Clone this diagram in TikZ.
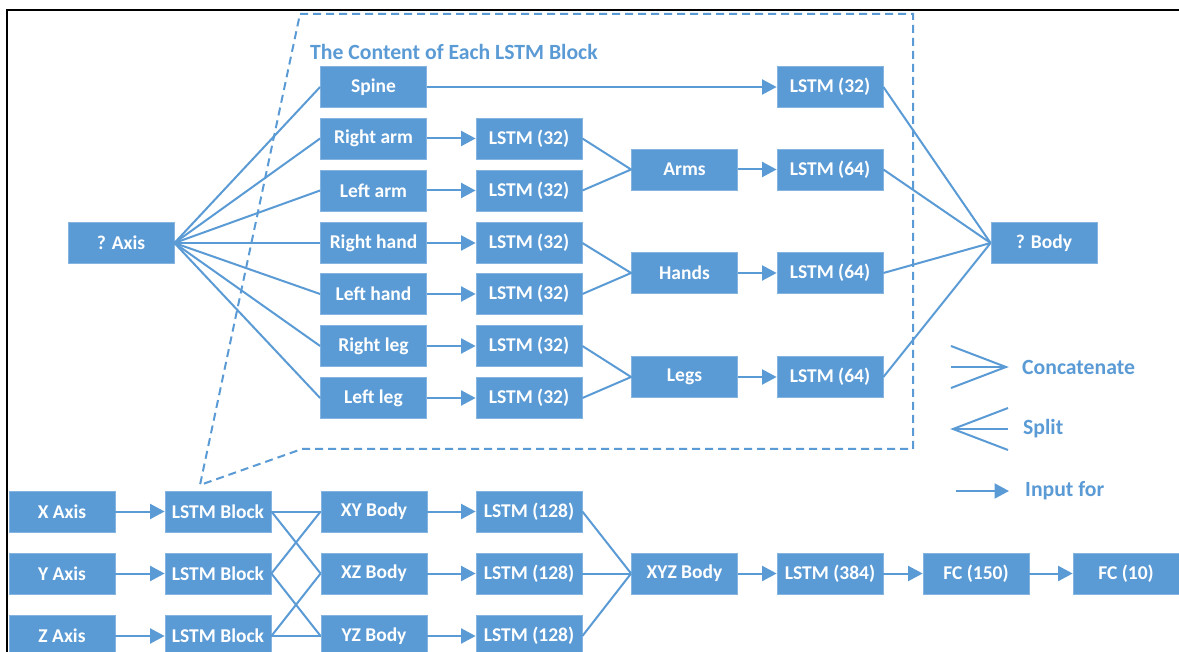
\documentclass[tikz,border=0pt]{standalone}
\usepackage{fontspec}
\setmainfont{Carlito}
\usetikzlibrary{arrows.meta}
\definecolor{boxblue}{RGB}{91,155,213}
\tikzset{
  blk/.style={fill=boxblue, draw=boxblue!75!white, line width=0.8pt, minimum width=106pt, minimum height=41pt, inner sep=0pt, text=white, font=\bfseries\fontsize{19.5}{22}\selectfont},
  conn/.style={draw=boxblue, line width=2pt},
  arr/.style={conn, -{Triangle[length=14.5pt,width=15pt]}},
  lbl/.style={text=boxblue, font=\bfseries\fontsize{21.7}{25}\selectfont, inner sep=0pt},
  dashbox/.style={draw=boxblue, line width=2pt, dash pattern=on 8pt off 5pt}
}
\begin{document}
\begin{tikzpicture}[x=1pt,y=-1pt]
\useasboundingbox (0,0) rectangle (1179,652);
\fill[white] (0,0) rectangle (1179,652);
% frame
\draw[line width=2.5pt, black] (7,652) -- (7,10) -- (1179,10);
% dashed zoom outline
\draw[dashbox] (300,14) -- (913,14) -- (913,449) -- (302,449) -- (200,485) -- cycle;
\node[lbl, anchor=west] (title) at (310,52) {The Content of Each LSTM Block};
% top block
\node[blk] (axis) at (121,243) {? Axis};
\node[blk] (spine) at (373.5,87) {Spine};
\node[blk] (rarm) at (373.5,138.5) {Right arm};
\node[blk] (larm) at (373.5,190.5) {Left arm};
\node[blk] (rhand) at (373.5,243) {Right hand};
\node[blk] (lhand) at (373.5,294) {Left hand};
\node[blk] (rleg) at (373.5,346) {Right leg};
\node[blk] (lleg) at (373.5,398) {Left leg};
\node[blk] (c1) at (529,138.5) {LSTM (32)};
\node[blk] (c2) at (529,190.5) {LSTM (32)};
\node[blk] (c3) at (529,243) {LSTM (32)};
\node[blk] (c4) at (529,294) {LSTM (32)};
\node[blk] (c5) at (529,346) {LSTM (32)};
\node[blk] (c6) at (529,398) {LSTM (32)};
\node[blk] (arms) at (684.5,169.5) {Arms};
\node[blk] (hands) at (684.5,273) {Hands};
\node[blk] (legs) at (684.5,377) {Legs};
\node[blk] (e0) at (830,87) {LSTM (32)};
\node[blk] (e1) at (830,169.5) {LSTM (64)};
\node[blk] (e2) at (830,273) {LSTM (64)};
\node[blk] (e3) at (830,377) {LSTM (64)};
\node[blk] (body) at (1044,243) {? Body};
\foreach \n in {spine,rarm,larm,rhand,lhand,rleg,lleg} \draw[conn] (axis.east) -- (\n.west);
\draw[arr] (spine) -- (e0);
\draw[arr] (rarm) -- (c1);
\draw[arr] (larm) -- (c2);
\draw[arr] (rhand) -- (c3);
\draw[arr] (lhand) -- (c4);
\draw[arr] (rleg) -- (c5);
\draw[arr] (lleg) -- (c6);
\draw[conn] (c1.east) -- (arms.west) -- (c2.east);
\draw[conn] (c3.east) -- (hands.west) -- (c4.east);
\draw[conn] (c5.east) -- (legs.west) -- (c6.east);
\draw[arr] (arms) -- (e1);
\draw[arr] (hands) -- (e2);
\draw[arr] (legs) -- (e3);
\foreach \n in {e0,e1,e2,e3} \draw[conn] (\n.east) -- (body.west);
% legend
\coordinate (ca) at (951,346); \coordinate (cb) at (951,367); \coordinate (cc) at (951,388); \coordinate (cd) at (1006,367);
\draw[conn] (ca) -- (cd) -- (cc); \draw[conn] (cb) -- (cd);
\node[lbl, anchor=west] (lconc) at (1022,367) {Concatenate};
\coordinate (sa) at (1008,408); \coordinate (sb) at (1008,429); \coordinate (sc) at (1008,450); \coordinate (sd) at (953,429);
\draw[conn] (sa) -- (sd) -- (sc); \draw[conn] (sb) -- (sd);
\node[lbl, anchor=west] (lsplit) at (1023,429) {Split};
\coordinate (ia) at (956,491); \coordinate (ib) at (1009,491);
\draw[arr] (ia) -- (ib);
\node[lbl, anchor=west] (linput) at (1025,491) {Input for};
% bottom
\node[blk] (xa) at (62,511.5) {X Axis};
\node[blk] (ya) at (62,573.5) {Y Axis};
\node[blk] (za) at (62,636) {Z Axis};
\node[blk] (xb) at (218,511.5) {LSTM Block};
\node[blk] (yb) at (218,573.5) {LSTM Block};
\node[blk] (zb) at (218,636) {LSTM Block};
\node[blk] (xy) at (374,511.5) {XY Body};
\node[blk] (xz) at (374,573.5) {XZ Body};
\node[blk] (yz) at (374,636) {YZ Body};
\node[blk] (l1) at (529,511.5) {LSTM (128)};
\node[blk] (l2) at (529,573.5) {LSTM (128)};
\node[blk] (l3) at (529,636) {LSTM (128)};
\node[blk] (xyz) at (684.5,573.5) {XYZ Body};
\node[blk] (l384) at (830,573.5) {LSTM (384)};
\node[blk] (fc1) at (976,573.5) {FC (150)};
\node[blk] (fc2) at (1126,573.5) {FC (10)};
\draw[arr] (xa) -- (xb);
\draw[arr] (ya) -- (yb);
\draw[arr] (za) -- (zb);
\draw[conn] (xb.east) -- (xy.west); \draw[conn] (xb.east) -- (xz.west);
\draw[conn] (yb.east) -- (xy.west); \draw[conn] (yb.east) -- (yz.west);
\draw[conn] (zb.east) -- (xz.west); \draw[conn] (zb.east) -- (yz.west);
\draw[arr] (xy) -- (l1);
\draw[arr] (xz) -- (l2);
\draw[arr] (yz) -- (l3);
\foreach \n in {l1,l2,l3} \draw[conn] (\n.east) -- (xyz.west);
\draw[arr] (xyz) -- (l384);
\draw[arr] (l384) -- (fc1);
\draw[arr] (fc1) -- (fc2);
\end{tikzpicture}
\end{document}
